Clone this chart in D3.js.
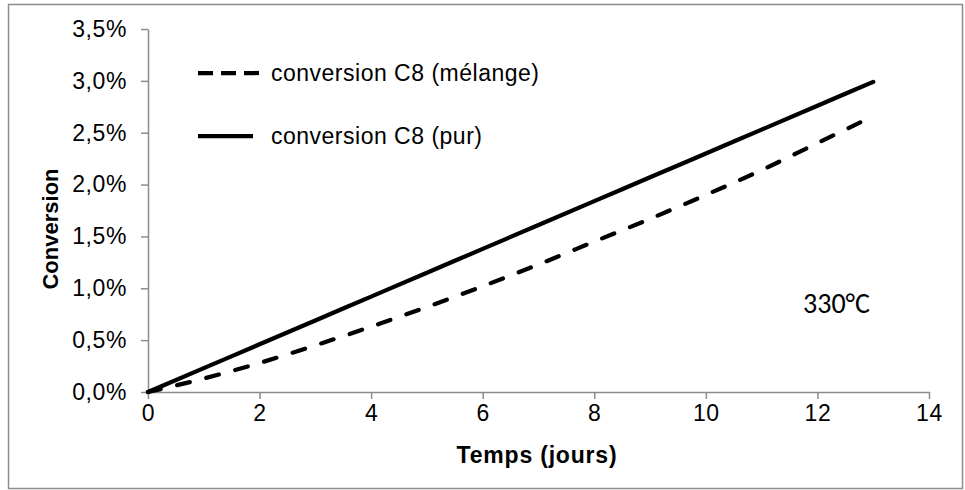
<!DOCTYPE html>
<html>
<head>
<meta charset="utf-8">
<script src="https://cdn.jsdelivr.net/npm/d3@7"></script>
<style>
  html, body { margin: 0; padding: 0; background: #fff; }
  svg { display: block; }
  text { font-family: "Liberation Sans", Arial, sans-serif; fill: #000; }
</style>
</head>
<body>
<svg id="chart" width="965" height="490"></svg>
<script>
// ---- data ----
const days = [0, 1, 2, 3, 4, 5, 6, 7, 8, 9, 10, 11, 12, 13];
const conversionMelange = [0, 0.0013, 0.0028, 0.0045, 0.0063, 0.0082, 0.0102, 0.0123, 0.0145, 0.0167, 0.0190, 0.0214, 0.0240, 0.0266];
const conversionPur = [0, 0.0023, 0.0046, 0.0069, 0.0092, 0.0115, 0.0138, 0.0161, 0.0184, 0.0207, 0.0230, 0.0253, 0.0276, 0.0299];
const seriesNames = ["conversion C8 (mélange)", "conversion C8 (pur)"];
const xTicks = [0, 2, 4, 6, 8, 10, 12, 14];
const yTicks = [0, 0.005, 0.010, 0.015, 0.020, 0.025, 0.030, 0.035];
const xTitle = "Temps (jours)";
const yTitle = "Conversion";
const annotation = "330°C";

// ---- layout ----
const svg = d3.select("#chart");
const axisColor = "#8c8c8c";
const fontFam = '"Liberation Sans", Arial, sans-serif';
const x = d3.scaleLinear().domain([0, 14]).range([148, 929]);
const y = d3.scaleLinear().domain([0, 0.035]).range([392, 29]);
const fr = d3.formatLocale({decimal: ",", thousands: " ", grouping: [3], currency: ["", "€"]});
const pct = fr.format(".1%");

// outer frame
svg.append("rect").attr("x", 8.5).attr("y", 4.5).attr("width", 954).attr("height", 484)
  .attr("fill", "none").attr("stroke", axisColor).attr("stroke-width", 1.5);

// y axis
const yAxis = svg.append("g").attr("transform", `translate(${x(0)},0)`)
  .call(d3.axisLeft(y).tickValues(yTicks).tickFormat(pct).tickSize(7).tickSizeOuter(0).tickPadding(14));
yAxis.select(".domain").attr("stroke", axisColor).attr("stroke-width", 1.5);
yAxis.selectAll(".tick line").attr("stroke", axisColor).attr("stroke-width", 1.5);
yAxis.selectAll(".tick text").attr("font-size", 23).attr("letter-spacing", 0.6)
  .attr("font-family", fontFam).attr("fill", "#000");

// x axis
const xAxis = svg.append("g").attr("transform", `translate(0,${y(0)})`)
  .call(d3.axisBottom(x).tickValues(xTicks).tickFormat(d3.format("d")).tickSize(7).tickSizeOuter(0).tickPadding(6));
xAxis.select(".domain").attr("stroke", axisColor).attr("stroke-width", 1.5);
xAxis.selectAll(".tick line").attr("stroke", axisColor).attr("stroke-width", 1.5);
xAxis.selectAll(".tick text").attr("font-size", 23).attr("letter-spacing", 0.6)
  .attr("font-family", fontFam).attr("fill", "#000");

// axis titles
svg.append("text").attr("x", 537).attr("y", 463).attr("text-anchor", "middle")
  .attr("font-size", 23).attr("letter-spacing", 0.8).attr("font-weight", "bold").text(xTitle);
svg.append("text").attr("transform", "translate(58,229) rotate(-90)").attr("text-anchor", "middle")
  .attr("font-size", 22).attr("font-weight", "bold").text(yTitle);

// lines
const line = d3.line().x(d => x(d[0])).y(d => y(d[1])).curve(d3.curveMonotoneX);
const melange = days.map((d, i) => [d, conversionMelange[i]]);
const pur = days.map((d, i) => [d, conversionPur[i]]);

svg.append("path").datum(melange).attr("d", line).attr("fill", "none")
  .attr("stroke", "#000").attr("stroke-width", 4.25).attr("stroke-linecap", "round")
  .attr("stroke-dasharray", "13,17");
svg.append("path").datum(pur).attr("d", line).attr("fill", "none")
  .attr("stroke", "#000").attr("stroke-width", 4.25).attr("stroke-linecap", "round");

// legend
const leg = svg.append("g");
leg.append("line").attr("x1", 198).attr("x2", 261).attr("y1", 73).attr("y2", 73)
  .attr("stroke", "#000").attr("stroke-width", 4.25).attr("stroke-dasharray", "15,8");
leg.append("text").attr("x", 271).attr("y", 73).attr("dy", "0.36em").attr("font-size", 23)
  .attr("letter-spacing", 0.5).text(seriesNames[0]);
leg.append("line").attr("x1", 198).attr("x2", 253).attr("y1", 136).attr("y2", 136)
  .attr("stroke", "#000").attr("stroke-width", 4.25);
leg.append("text").attr("x", 271).attr("y", 136).attr("dy", "0.36em").attr("font-size", 23)
  .attr("letter-spacing", 0.5).text(seriesNames[1]);

// annotation
svg.append("text").attr("x", 803).attr("y", 313).attr("font-size", 28)
  .style("font-family", "Carlito, Lato, 'Open Sans', sans-serif").text(annotation);
</script>
</body>
</html>
